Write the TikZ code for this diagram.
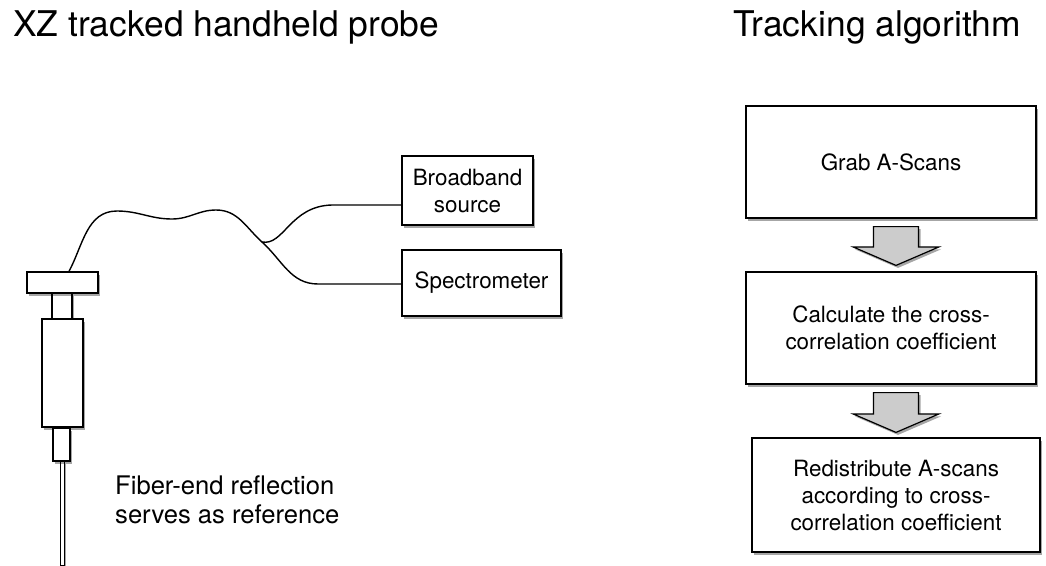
\documentclass[tikz,border=0pt]{standalone}
\usepackage{fontspec}
\setmainfont{TeX Gyre Heros}
\usetikzlibrary{calc,shadows}

\begin{document}
\begin{tikzpicture}[x=1pt,y=-1pt,
  shade/.style={drop shadow={shadow xshift=2pt,shadow yshift=-2.5pt,opacity=0.35,fill=black}},
  part/.style={draw,line width=1.2pt,fill=white,inner sep=0pt,shade},
  stepbox/.style={draw,line width=1.2pt,fill=white,shade,align=center,inner sep=0pt,
    font=\fontsize{22.4}{27}\selectfont},
  fiber/.style={line width=1.4pt,line cap=round},
  flowarr/.style={draw,line width=1.2pt,fill=gray!40,line join=miter,shade},
  title/.style={anchor=base west,inner sep=0pt,font=\fontsize{35.4}{40}\selectfont}]

\useasboundingbox (0,0) rectangle (1046,565);

% headings
\node[title] (t1) at (13,36) {XZ tracked handheld probe};
\node[title] (t2) at (733,36) {Tracking algorithm};

% handheld probe, neck first so cap and body sit on top of it
\node[part,minimum width=20pt,minimum height=26pt] (neck) at (62,306) {};
\node[part,minimum width=71pt,minimum height=21pt] (cap) at (62.5,282.5) {};
\node[part,minimum width=41pt,minimum height=108pt] (body) at (62.5,373) {};
\node[part,minimum width=4pt,minimum height=104pt,line width=1pt] (needle) at (62,513) {};
\node[part,minimum width=17pt,minimum height=33pt] (collar) at (61.5,444.5) {};

\node[anchor=base west,inner sep=0pt,align=left,font=\fontsize{25.6}{29}\selectfont]
  (lbl) at (115,523) {Fiber-end reflection\\serves as reference};

% source and detector
\node[stepbox,minimum width=131pt,minimum height=69pt] (bb) at (467.5,190.5) {Broadband\\source};
\node[stepbox,minimum width=159pt,minimum height=66pt] (spec) at (481.5,283) {Spectrometer};

% fiber from the probe to the coupler and on to both instruments
\coordinate (fin) at ($(cap.north)+(6.5,0)$);
\coordinate (junc) at (262,242);
\draw[fiber] (fin) to[out=62,in=180] (117,211) to[out=0,in=180] (172,219)
  to[out=0,in=180] (216,210) to[out=0,in=138] (junc);
\draw[fiber] (junc) .. controls (284,246) and (290,206) .. (332,205) -- ($(bb.west)+(0,14.5)$);
\draw[fiber] (junc) to[out=-42,in=180] (318,284) -- ($(spec.west)+(0,1)$);

% algorithm steps
\node[stepbox,minimum width=290pt,minimum height=112pt] (grab) at (891,162) {Grab A-Scans};
\node[stepbox,minimum width=290pt,minimum height=112pt] (calc) at (891,328) {Calculate the cross-\\correlation coefficient};
\node[stepbox,minimum width=288pt,minimum height=114pt] (redis) at (896,495) {Redistribute A-scans\\according to cross-\\correlation coefficient};

% block arrows between the steps
\newcommand\flowarrow[2]{%
  \draw[flowarr] ($(#1)+(-22.5,0)$) -- ($(#1)+(22.5,0)$) -- ($(#2)+(22.5,-18.5)$)
    -- ($(#2)+(43,-18.5)$) -- (#2) -- ($(#2)+(-43,-18.5)$) -- ($(#2)+(-22.5,-18.5)$) -- cycle;}
\coordinate (a1s) at ($(grab.south)+(5,8)$);
\coordinate (a1e) at ($(calc.north)+(5,-6)$);
\coordinate (a2s) at ($(calc.south)+(5,8)$);
\coordinate (a2e) at ($(redis.north)+(0,-5)$);
\flowarrow{a1s}{a1e}
\flowarrow{a2s}{a2e}
\end{tikzpicture}
\end{document}
